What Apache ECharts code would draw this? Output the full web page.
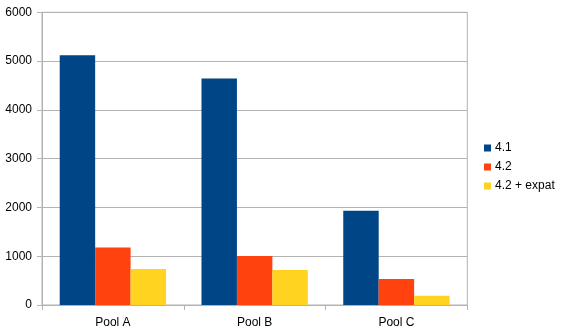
<!DOCTYPE html>
<html><head><meta charset="utf-8">
<script src="https://cdn.jsdelivr.net/npm/echarts@6/dist/echarts.min.js"></script>
<style>html,body{margin:0;padding:0;background:#fff}#c{width:563px;height:333px}</style>
</head><body><div id="c"></div>
<script>
var categories = ['Pool A', 'Pool B', 'Pool C'];
var seriesNames = ['4.1', '4.2', '4.2 + expat'];
var v41 = [5120, 4645, 1930];
var v42 = [1180, 1005, 535];
var v42expat = [738, 717, 190];
var yTicks = [0, 1000, 2000, 3000, 4000, 5000, 6000];
var colors = ['#004586', '#ff420e', '#ffd320'];

var chart = echarts.init(document.getElementById('c'));
var font = 'Liberation Sans, Arial, sans-serif';
var allVals = [v41, v42, v42expat];
chart.setOption({
  animation: false,
  grid: {left: 42, top: 12.3, width: 425.3, height: 292.7, show: true, borderColor: '#b3b3b3', borderWidth: 1, containLabel: false},
  legend: {
    orient: 'vertical', left: 479, top: 136,
    itemWidth: 7, itemHeight: 7, itemGap: 5, icon: 'rect',
    textStyle: {fontFamily: font, fontSize: 12, color: '#000', lineHeight: 14, padding: [0,0,0,-1]},
    data: seriesNames
  },
  xAxis: {
    type: 'category', data: categories,
    axisLine: {lineStyle: {color: '#b3b3b3'}},
    axisTick: {show: true, length: 5, lineStyle: {color: '#b3b3b3'}},
    axisLabel: {fontFamily: font, fontSize: 12, color: '#000', margin: 12}
  },
  yAxis: {
    type: 'value', min: yTicks[0], max: yTicks[yTicks.length-1], interval: 1000,
    axisLine: {show: true, lineStyle: {color: '#b3b3b3'}},
    axisTick: {show: true, length: 5, lineStyle: {color: '#b3b3b3'}},
    splitLine: {lineStyle: {color: '#b3b3b3'}},
    axisLabel: {fontFamily: font, fontSize: 12, color: '#000', margin: 10, formatter: function(v){ return String(v); }}
  },
  series: seriesNames.map(function(n, i){
    return {name: n, type: 'bar', data: allVals[i], barGap: '0%', barCategoryGap: '25%',
      itemStyle: {color: colors[i]}};
  })
});
</script></body></html>
